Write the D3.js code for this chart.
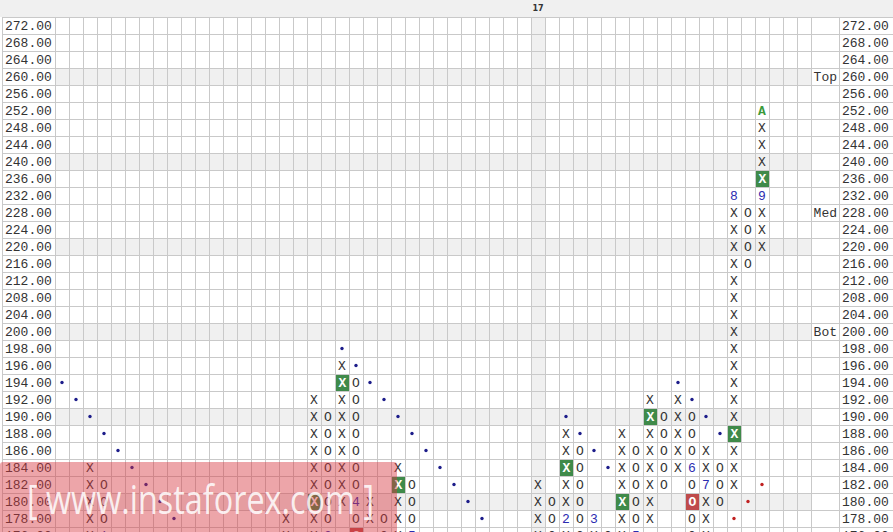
<!DOCTYPE html>
<html><head><meta charset="utf-8">
<script src="https://cdn.jsdelivr.net/npm/d3@7"></script>
<style>body{margin:0;background:#fff}svg{display:block}</style>
</head><body><svg id="c" width="893" height="532"></svg>
<script>
// price rows (top to bottom)
const rowValues = [272,268,264,260,256,252,248,244,240,236,232,228,224,220,216,212,208,204,200,198,196,194,192,190,188,186,184,182,180,178,176];
const columnCount = 54;
const yearMarks = [[34,"17"]];
const sideLabels = [[260,"Top"],[228,"Med"],[200,"Bot"]];
// X columns: [column, low, high]
const xColumns = [[2,176,184],[16,176,178],[18,176,192],[20,180,196],[22,178,180],[24,176,184],[34,176,182],[36,176,188],[38,176,178],[40,176,188],[42,178,192],[44,184,192],[46,176,186],[48,182,232],[50,220,252]];
// O columns: [column, low, high]
const oColumns = [[3,176,182],[19,176,190],[21,176,194],[23,176,178],[25,176,182],[35,176,180],[37,176,186],[39,176,176],[41,176,186],[43,182,190],[45,176,190],[47,180,184],[49,216,228]];
// month labels replacing boxes: [column, price, label]
const monthMarks = [[3,176,"1"],[19,176,"3"],[21,180,"4"],[25,176,"5"],[36,178,"2"],[38,178,"3"],[41,176,"5"],[45,184,"6"],[46,182,"7"],[48,232,"8"],[50,232,"9"]];
const greenMonth = [[50,252,"A"]];
const greenBoxes = [[20,194],[18,180],[24,182],[36,184],[40,180],[42,190],[48,188],[50,236]];
const redBoxes = [[45,180],[21,176]];
const blueDots = [[0,194],[1,192],[2,190],[3,188],[4,186],[5,184],[6,182],[7,180],[8,178],[9,176],[20,198],[21,196],[22,194],[23,192],[24,190],[25,188],[26,186],[27,184],[28,182],[29,180],[30,178],[31,176],[36,190],[37,188],[38,186],[39,184],[44,194],[45,192],[46,190],[47,188]];
const redDots = [[48,178],[49,180],[50,182]];

const svg = d3.select("#c");
const x = d3.scaleBand().domain(d3.range(columnCount)).range([55, 811]);
const y = d3.scaleBand().domain(rowValues).range([17, 17 + 17 * rowValues.length]);
const W = 893, grid = "#c9c9c9", shade = "#f0f0f0";
const mono = "'Liberation Mono','DejaVu Sans Mono',monospace";

// header band
svg.append("rect").attr("x",0).attr("y",0).attr("width",W).attr("height",17).attr("fill",shade);
// shaded rows
svg.selectAll(".srow").data(rowValues.filter(v => v % 10 === 0)).join("rect")
  .attr("x",55).attr("width",811-55).attr("y",d=>y(d)).attr("height",y.bandwidth()).attr("fill",shade);
// shaded year column
svg.selectAll(".scol").data(yearMarks).join("rect")
  .attr("x",d=>x(d[0])).attr("width",x.bandwidth()).attr("y",17).attr("height",532).attr("fill",shade);
// horizontal grid
svg.selectAll(".hl").data(rowValues).join("line")
  .attr("x1",2).attr("x2",W).attr("y1",d=>y(d)+0.5).attr("y2",d=>y(d)+0.5)
  .attr("stroke",grid).attr("stroke-width",1);
// vertical grid
const vx = d3.range(columnCount+1).map(i => i < columnCount ? x(i) : 811).concat([2, 839]);
svg.selectAll(".vl").data(vx).join("line")
  .attr("x1",d=>Math.round(d)+0.5).attr("x2",d=>Math.round(d)+0.5).attr("y1",17).attr("y2",532)
  .attr("stroke",grid).attr("stroke-width",1);

// year header
svg.selectAll(".yr").data(yearMarks).join("text")
  .attr("x",d=>x(d[0])+x.bandwidth()/2).attr("y",11).attr("text-anchor","middle")
  .attr("font-family","'DejaVu Sans',sans-serif").attr("font-size",8).attr("font-weight","bold").attr("fill","#333").text(d=>d[1]);

// axis labels
const fmt = d3.format(".2f");
svg.selectAll(".ll").data(rowValues).join("text")
  .attr("x",5).attr("y",d=>y(d)+y.bandwidth()/2+4.5)
  .attr("font-family",mono).attr("font-size",13).attr("fill","#333").text(d=>fmt(d));
svg.selectAll(".rl").data(rowValues).join("text")
  .attr("x",842).attr("y",d=>y(d)+y.bandwidth()/2+4.5)
  .attr("font-family",mono).attr("font-size",13).attr("fill","#333").text(d=>fmt(d));
svg.selectAll(".sl").data(sideLabels).join("text")
  .attr("x",837).attr("y",d=>y(d[0])+y.bandwidth()/2+4.5).attr("text-anchor","end")
  .attr("font-family",mono).attr("font-size",13).attr("fill","#333").text(d=>d[1]);

// build cells
const key = (c,v) => c + "_" + v;
const special = new Set([...monthMarks, ...greenMonth, ...greenBoxes, ...redBoxes].map(d => key(d[0], d[1])));
const cells = [];
function expand(cols, sym){
  cols.forEach(([c,lo,hi]) => rowValues.filter(v => v >= lo && v <= hi).forEach(v => {
    if (!special.has(key(c,v))) cells.push({c, v, s: sym});
  }));
}
expand(xColumns, "X"); expand(oColumns, "O");
const cx = c => x(c) + x.bandwidth()/2;
const cy = v => y(v) + y.bandwidth()/2;

svg.selectAll(".cell").data(cells).join("text")
  .attr("x",d=>cx(d.c)).attr("y",d=>cy(d.v)+4.5).attr("text-anchor","middle")
  .attr("font-family",mono).attr("font-size",13).attr("fill","#333").text(d=>d.s);

// boxes
svg.selectAll(".gb").data(greenBoxes).join("rect")
  .attr("x",d=>x(d[0])+1).attr("y",d=>y(d[1])+1).attr("width",x.bandwidth()-1).attr("height",y.bandwidth()-1).attr("fill","#3f8a4a");
svg.selectAll(".gbt").data(greenBoxes).join("text")
  .attr("x",d=>cx(d[0])+0.5).attr("y",d=>cy(d[1])+4.5).attr("text-anchor","middle")
  .attr("font-family",mono).attr("font-size",13).attr("font-weight","bold").attr("fill","#fff").text("X");
svg.selectAll(".rb").data(redBoxes).join("rect")
  .attr("x",d=>x(d[0])+1).attr("y",d=>y(d[1])+1).attr("width",x.bandwidth()-1).attr("height",y.bandwidth()-1).attr("fill","#bf4b4b");
svg.selectAll(".rbt").data(redBoxes).join("text")
  .attr("x",d=>cx(d[0])+0.5).attr("y",d=>cy(d[1])+4.5).attr("text-anchor","middle")
  .attr("font-family",mono).attr("font-size",13).attr("font-weight","bold").attr("fill","#fff").text("O");

// month labels
svg.selectAll(".mm").data(monthMarks).join("text")
  .attr("x",d=>cx(d[0])).attr("y",d=>cy(d[1])+4.5).attr("text-anchor","middle")
  .attr("font-family",mono).attr("font-size",13).attr("fill","#2b2bb0").text(d=>d[2]);
svg.selectAll(".gm").data(greenMonth).join("text")
  .attr("x",d=>cx(d[0])).attr("y",d=>cy(d[1])+4.5).attr("text-anchor","middle")
  .attr("font-family",mono).attr("font-size",13).attr("font-weight","bold").attr("fill","#3a9a3a").text(d=>d[2]);

// dots
svg.selectAll(".bd").data(blueDots).join("circle")
  .attr("cx",d=>cx(d[0])).attr("cy",d=>cy(d[1])).attr("r",1.7).attr("fill","#1c1c8a");
svg.selectAll(".rd").data(redDots).join("circle")
  .attr("cx",d=>cx(d[0])).attr("cy",d=>cy(d[1])).attr("r",1.7).attr("fill","#c02020");

// watermark
svg.append("rect").attr("x",0).attr("y",462).attr("width",397).attr("height",80).attr("rx",3)
  .attr("fill","rgb(215,55,65)").attr("fill-opacity",0.45);
svg.append("text").attr("x",27).attr("y",514).attr("textLength",347).attr("lengthAdjust","spacingAndGlyphs")
  .attr("font-family","'Open Sans',sans-serif").attr("font-size",40).attr("fill","#fff").attr("fill-opacity",0.85)
  .text("[ www.instaforex.com ]");
</script></body></html>
